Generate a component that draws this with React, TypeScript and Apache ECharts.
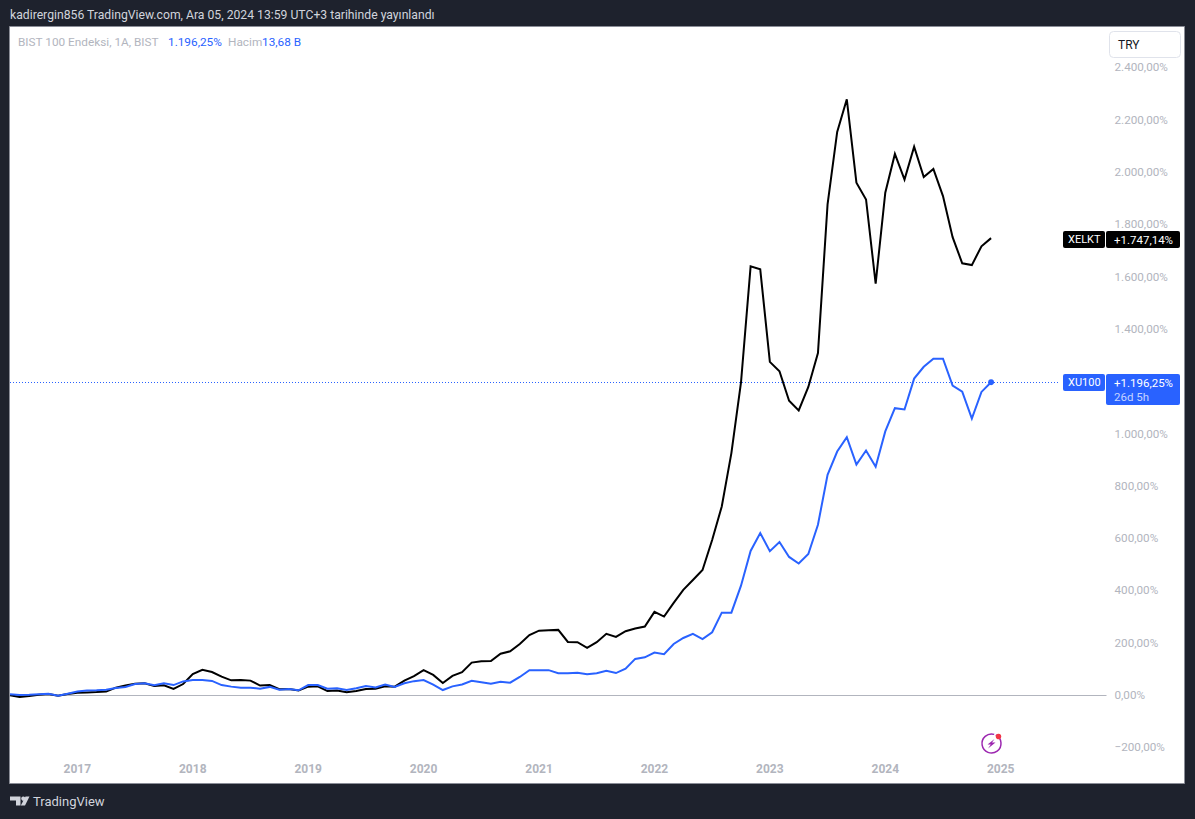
import React, { useEffect, useRef } from "react";
import * as echarts from "echarts";

const FONT = "Roboto, sans-serif";
const firstYear = 2016;
const months: string[] = [];
for (let i = 0; i < 115; i++) {
  const m = 5 + i;
  months.push(`${firstYear + Math.floor(m / 12)}-${String((m % 12) + 1).padStart(2, "0")}`);
}

const xelkt = [-1, -8, -4, 1, 4, -3, 4, 9, 10, 11, 13, 28, 36, 43, 45, 34, 37, 23, 42, 80, 96, 88, 70, 56, 57, 55, 36, 38, 22, 23, 17, 32, 33, 15, 17, 11, 15, 23, 24, 33, 32,
  55, 72, 95, 77, 46, 73, 87, 124, 129, 130, 158, 167, 195, 229, 246, 248, 249, 203, 202, 180, 202, 234, 222, 244, 254, 262, 318, 300, 352, 402, 440, 478, 593, 721, 925, 1195, 1639, 1628, 1274, 1238, 1125, 1088, 1178, 1308, 1876, 2153, 2278, 1959, 1895, 1573, 1921, 2069, 1971, 2097, 1981, 2012, 1908, 1751, 1651, 1644, 1716, 1747.14];
const xu100 = [3, 0, 1, 3, 5, -3, 5, 13, 17, 18, 20, 27, 31, 42, 45, 37, 45, 38, 52, 57, 57, 54, 38, 32, 28, 28, 24, 31, 20, 23, 18, 38, 38, 24, 26, 19, 26, 34, 29, 40, 31,
  45, 53, 57, 40, 19, 33, 40, 54, 49, 43, 51, 47, 69, 95, 95, 95, 83, 83, 85, 79, 83, 93, 84, 101, 138, 144, 162, 156, 195, 218, 234, 214, 240, 315, 315, 418, 551, 619, 550, 585, 528, 503, 539, 651, 842, 931, 986, 881, 935, 873, 1008, 1097, 1092, 1210, 1255, 1286, 1286, 1183, 1160, 1057, 1159, 1196.25];

const BLUE = "#2962ff";
const GRAY = "#b2b5be";
const DARK = "#1e222d";

const yFmt = (v: number) => {
  if (v === 1200) return "";
  const a = Math.abs(v);
  const s = a >= 1000 ? `${Math.floor(a / 1000)}.${String(a % 1000).padStart(3, "0")}` : String(a);
  return `${v < 0 ? "\u2212" : ""}${s},00%`;
};

const txt = (x: number, y: number, text: string, fill: string, fontSize = 12, fontWeight = 400) => ({
  type: "text", x, y, z: 20,
  style: { text, fill, fontSize, fontWeight, fontFamily: FONT, verticalAlign: "middle", align: "left" },
});
const box = (x: number, y: number, width: number, height: number, fill: string, r = 2, z = 15) => ({
  type: "rect", z, shape: { x, y, width, height, r }, style: { fill },
});

export default function App() {
  const ref = useRef<HTMLDivElement>(null);
  useEffect(() => {
    document.body.style.margin = "0";
    document.body.style.background = DARK;
    const chart = echarts.init(ref.current!, undefined, { renderer: "svg" });
    chart.setOption({
      animation: false,
      backgroundColor: DARK,
      textStyle: { fontFamily: FONT },
      grid: { left: 10, top: 67.4, width: 1096.5, height: 679.9, containLabel: false },
      xAxis: {
        type: "category", data: months, boundaryGap: false,
        axisLine: { show: false }, axisTick: { show: false }, splitLine: { show: false },
        axisLabel: {
          color: GRAY, fontSize: 12, fontWeight: 700, fontFamily: FONT, margin: 16,
          interval: (_: number, v: string) => v.endsWith("-01"),
          formatter: (v: string) => v.slice(0, 4),
        },
      },
      yAxis: {
        type: "value", position: "right", min: -200, max: 2400, interval: 200, scale: false,
        axisLine: { show: false }, axisTick: { show: false }, splitLine: { show: false },
        axisLabel: { color: GRAY, fontSize: 11.7, fontFamily: FONT, margin: 8, align: "left", padding: [0, 0, 2, 0], formatter: yFmt },
      },
      series: [
        {
          name: "XELKT", type: "line", data: xelkt, symbol: "none", z: 5, clip: false,
          lineStyle: { color: "#000000", width: 2, join: "miter" },
          markLine: {
            silent: true, symbol: "none", z: 1, label: { show: false },
            lineStyle: { color: GRAY, width: 1, type: "solid" },
            data: [[{ coord: [months[0], 0] }, { coord: [months[114], 0] }]],
          },
        },
        {
          name: "XU100", type: "line", data: xu100, z: 6, clip: false,
          symbol: (_: number, p: any) => (p.dataIndex === xu100.length - 1 ? "circle" : "none"),
          symbolSize: 6, showSymbol: true, showAllSymbol: true,
          itemStyle: { color: BLUE },
          lineStyle: { color: BLUE, width: 2, join: "miter" },
          markLine: {
            silent: true, symbol: "none", z: 1, label: { show: false },
            lineStyle: { color: BLUE, width: 1, type: [1, 2] },
            data: [[{ coord: [months[0], 1196.25] }, { coord: [months[109], 1196.25] }]],
          },
        },
      ],
      graphic: [
        { type: "rect", z: -10, shape: { x: 9.5, y: 26.5, width: 1175, height: 757 }, style: { fill: "#ffffff", stroke: "#8a8d97", lineWidth: 1 } },
        txt(10, 15, "kadirergin856 TradingView.com, Ara 05, 2024 13:59 UTC+3 tarihinde yayınlandı", "#d1d4dc", 12.2),
        txt(18, 42, "BIST 100 Endeksi, 1A, BIST", GRAY, 11.8),
        txt(168, 42, "1.196,25%", BLUE, 11.8),
        txt(228, 42, "Hacim", GRAY, 11.8),
        txt(262, 42, "13,68 B", BLUE, 11.8),
        { type: "rect", z: 15, shape: { x: 1109.5, y: 31.5, width: 71, height: 26, r: 4 }, style: { fill: "#ffffff", stroke: "#e0e3eb", lineWidth: 1 } },
        txt(1118, 44.5, "TRY", "#131722", 12),
        box(1063, 231, 42, 17, "#000000"),
        box(1106, 231, 74, 17, "#000000"),
        txt(1068, 239.5, "XELKT", "#ffffff", 11),
        txt(1114, 239.5, "+1.747,14%", "#ffffff", 11.5),
        box(1063, 374, 42, 17, BLUE),
        box(1106, 374, 74, 31, BLUE),
        txt(1068, 382.5, "XU100", "#ffffff", 11),
        txt(1114, 382.5, "+1.196,25%", "#ffffff", 11.5),
        txt(1114, 396.5, "26d 5h", "#c6d4ff", 11.5),
        { type: "arc", z: 15, shape: { cx: 991.5, cy: 743.5, r: 9.5, startAngle: -1.1, endAngle: 5.0 }, style: { stroke: "#9c27b0", fill: "none", lineWidth: 1.5 } },
        { type: "polygon", z: 16, shape: { points: [[994.5, 739], [987.5, 744.5], [990.8, 744.5], [988, 748.5], [995.5, 742.5], [992, 742.5]] }, style: { fill: "#9c27b0" } },
        { type: "circle", z: 17, shape: { cx: 998.5, cy: 736.5, r: 2.8 }, style: { fill: "#f23645" } },
        { type: "polygon", z: 15, shape: { points: [[10, 796.5], [20.5, 796.5], [20.5, 805.5], [16, 805.5], [16, 800.5], [10, 800.5]] }, style: { fill: "#d1d4dc" } },
        { type: "circle", z: 15, shape: { cx: 23.3, cy: 798.6, r: 2.1 }, style: { fill: "#d1d4dc" } },
        { type: "polygon", z: 15, shape: { points: [[25.5, 796.5], [29.5, 796.5], [25, 805.5], [20.8, 805.5]] }, style: { fill: "#d1d4dc" } },
        txt(33, 801, "TradingView", "#d1d4dc", 13),
      ],
    });
    return () => chart.dispose();
  }, []);
  return <div ref={ref} style={{ width: 1195, height: 819 }} />;
}
